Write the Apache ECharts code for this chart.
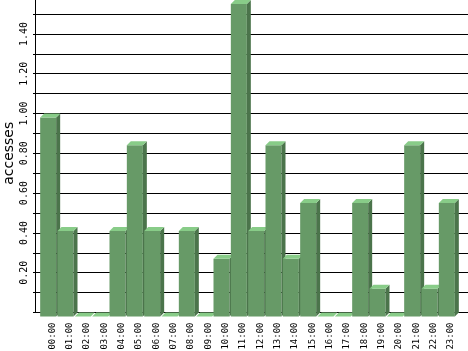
<!DOCTYPE html>
<html>
<head>
<meta charset="utf-8">
<script src="https://cdn.jsdelivr.net/npm/echarts@6/dist/echarts.min.js"></script>
<style>
html,body{margin:0;padding:0;background:#fff;}
#chart{width:468px;height:351px;}
</style>
</head>
<body>
<div id="chart"></div>
<script>
var hours = ["00:00","01:00","02:00","03:00","04:00","05:00","06:00","07:00","08:00","09:00","10:00","11:00",
             "12:00","13:00","14:00","15:00","16:00","17:00","18:00","19:00","20:00","21:00","22:00","23:00"];
var accesses = [1.00, 0.43, 0, 0, 0.43, 0.86, 0.43, 0, 0.43, 0, 0.29, 1.57,
                0.43, 0.86, 0.29, 0.57, 0, 0, 0.57, 0.14, 0, 0.86, 0.14, 0.57];
var yTickLabels = ["0.20","0.40","0.60","0.80","1.00","1.20","1.40"];
var yAxisName = "accesses";

var FRONT = '#679a67', SIDE = '#4b744b', TOP = '#88cc88';
var DEPTH = 4;
var GRID_TOP = -5.9, GRID_BOTTOM = 38.5;

var chart = echarts.init(document.getElementById('chart'), null, {renderer: 'canvas'});

function renderBar(params, api) {
  var i = api.value(0), v = api.value(1);
  var top = api.coord([i, v]);
  var base = api.coord([i, 0]);
  var bw = api.size([1, 0])[0] * 0.923;
  var x0 = top[0] - bw / 2, x1 = top[0] + bw / 2;
  var yT = top[1], yB = base[1], d = DEPTH;
  var children = [];
  if (yB - yT > 0.3) {
    children.push({type: 'rect', shape: {x: x0 - d, y: yT + d, width: bw, height: yB - yT}, style: {fill: FRONT}});
    children.push({type: 'polygon', shape: {points: [[x1 - d, yT + d], [x1, yT], [x1, yB], [x1 - d, yB + d]]}, style: {fill: SIDE}});
  }
  children.push({type: 'polygon', shape: {points: [[x0 - d, yT + d], [x1 - d, yT + d], [x1, yT], [x0, yT]]}, style: {fill: TOP}});
  return {type: 'group', children: children};
}

var barData = accesses.map(function (v, i) { return [i, v]; });

chart.setOption({
  animation: false,
  backgroundColor: '#ffffff',
  grid: [
    {left: 35, right: 0, top: GRID_TOP, bottom: GRID_BOTTOM, outerBoundsMode: 'none', containLabel: false},
    {left: 43.5, right: 8.5, top: GRID_TOP, bottom: GRID_BOTTOM, outerBoundsMode: 'none', containLabel: false}
  ],
  xAxis: [
    {gridIndex: 0, type: 'value', min: 0, max: 1, show: false},
    {gridIndex: 1, type: 'category', data: hours, boundaryGap: true,
     axisLine: {show: false}, axisTick: {show: false},
     axisLabel: {rotate: 90, interval: 0, margin: 10, color: '#000',
                 fontFamily: 'DejaVu Sans Mono', fontSize: 9}}
  ],
  yAxis: [
    {gridIndex: 0, type: 'value', min: 0, max: 1.6, interval: 0.1,
     name: yAxisName, nameLocation: 'middle', nameRotate: 90, nameGap: 19, nameMoveOverlap: false,
     nameTextStyle: {color: '#000', fontFamily: 'DejaVu Sans', fontSize: 14},
     axisLine: {show: true, lineStyle: {color: '#000', width: 1}},
     axisTick: {show: true, length: 2, lineStyle: {color: '#000'}},
     splitLine: {show: true, lineStyle: {color: '#000', width: 1}},
     axisLabel: {rotate: 90, margin: 6, color: '#000', fontFamily: 'DejaVu Sans Mono', fontSize: 10,
                 formatter: function (val) {
                   var s = val.toFixed(2);
                   return yTickLabels.indexOf(s) >= 0 ? s : '';
                 }}},
    {gridIndex: 1, type: 'value', min: 0, max: 1.6, show: false}
  ],
  series: [{
    type: 'custom',
    xAxisIndex: 1, yAxisIndex: 1,
    renderItem: renderBar,
    encode: {x: 0, y: 1},
    data: barData,
    clip: false
  }]
});
</script>
</body>
</html>
